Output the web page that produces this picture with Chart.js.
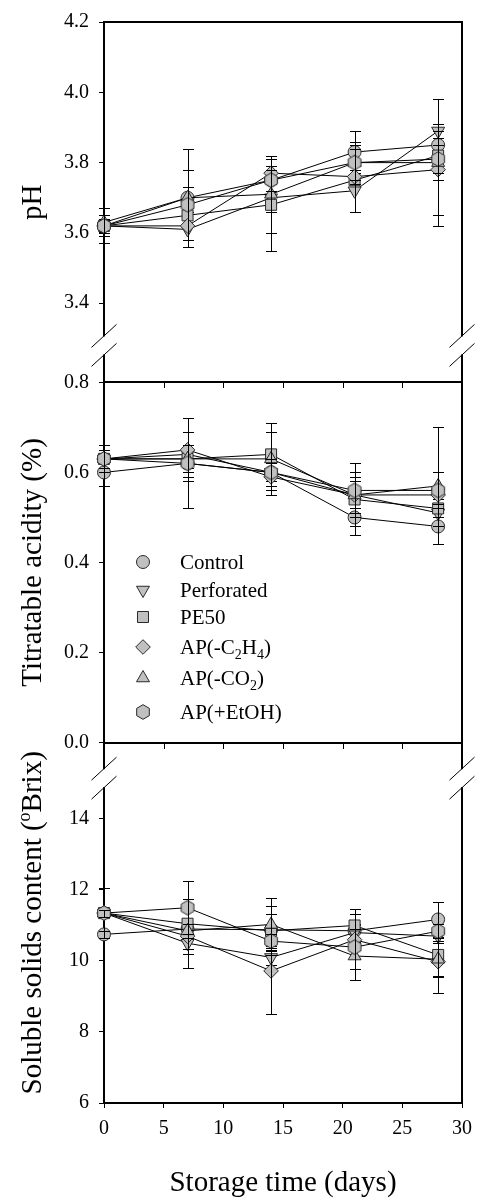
<!DOCTYPE html>
<html>
<head>
<meta charset="utf-8">
<script src="https://cdn.jsdelivr.net/npm/chart.js@4.4.0/dist/chart.umd.min.js"></script>
<style>
  html, body { margin: 0; padding: 0; background: #fff; }
</style>
</head>
<body>
<canvas id="calidad" width="481" height="1200"></canvas>
<script>
// storage days and packaging treatments
const days = [0, 7, 14, 21, 28];
const treatments = ['Control', 'Perforated', 'PE50', 'AP(-C_2H_4)', 'AP(-CO_2)', 'AP(+EtOH)'];

const dayTicks = [0, 5, 10, 15, 20, 25, 30];
const phTicks = [3.4, 3.6, 3.8, 4.0, 4.2];
const acidTicks = [0.0, 0.2, 0.4, 0.6, 0.8];
const solidTicks = [6, 8, 10, 12, 14];

// pH, one row per treatment
const phMean = [
  [3.62, 3.70, 3.75, 3.83, 3.85],
  [3.62, 3.61, 3.70, 3.72, 3.89],
  [3.62, 3.65, 3.68, 3.75, 3.82],
  [3.62, 3.62, 3.77, 3.76, 3.78],
  [3.63, 3.70, 3.71, 3.80, 3.80],
  [3.62, 3.68, 3.75, 3.80, 3.81]
];
const phSd = [
  [0.03, 0.14, 0.04, 0.06, 0.02],
  [0.02, 0.05, 0.04, 0.06, 0.02],
  [0.02, 0.03, 0.13, 0.09, 0.07],
  [0.05, 0.06, 0.05, 0.10, 0.13],
  [0.02, 0.03, 0.11, 0.05, 0.18],
  [0.03, 0.10, 0.03, 0.06, 0.04]
];

// titratable acidity (%)
const acidMean = [
  [0.60, 0.62, 0.60, 0.50, 0.48],
  [0.63, 0.64, 0.60, 0.55, 0.51],
  [0.63, 0.63, 0.64, 0.54, 0.52],
  [0.63, 0.65, 0.59, 0.55, 0.55],
  [0.63, 0.63, 0.63, 0.55, 0.57],
  [0.63, 0.62, 0.60, 0.56, 0.56]
];
const acidSd = [
  [0.03, 0.04, 0.04, 0.04, 0.04],
  [0.02, 0.05, 0.02, 0.03, 0.03],
  [0.02, 0.02, 0.07, 0.06, 0.02],
  [0.02, 0.07, 0.04, 0.04, 0.02],
  [0.02, 0.03, 0.06, 0.05, 0.13],
  [0.03, 0.10, 0.03, 0.06, 0.04]
];

// soluble solids content (oBrix)
const solidMean = [
  [10.75, 10.90, 10.88, 10.85, 11.17],
  [11.35, 10.50, 10.10, 10.80, 10.70],
  [11.35, 11.05, 10.85, 11.00, 10.17],
  [11.35, 10.70, 9.72, 10.60, 9.98],
  [11.35, 10.85, 11.03, 10.14, 10.05],
  [11.35, 11.50, 10.56, 10.39, 10.84]
];
const solidSd = [
  [0.10, 0.15, 0.45, 0.20, 0.50],
  [0.10, 0.30, 0.20, 0.20, 0.20],
  [0.70, 0.70, 0.69, 0.47, 0.60],
  [0.10, 0.90, 1.20, 0.30, 0.88],
  [0.10, 0.20, 0.74, 0.37, 0.50],
  [0.10, 0.75, 0.20, 0.93, 0.20]
];

const FONT = 'Liberation Serif, "Times New Roman", serif';
const FILL = '#c0c0c0';
const EDGE = '#2a2a2a';

function hexagon(r) {
  const c = document.createElement('canvas');
  const s = Math.ceil(r * 2 + 3);
  c.width = s; c.height = s;
  const g = c.getContext('2d');
  g.beginPath();
  for (let k = 0; k < 6; k++) {
    const a = Math.PI / 3 * k;
    g.lineTo(s / 2 + r * Math.sin(a), s / 2 - r * Math.cos(a));
  }
  g.closePath();
  g.fillStyle = FILL; g.fill();
  g.strokeStyle = EDGE; g.lineWidth = 1; g.stroke();
  return c;
}

const markers = [
  { style: 'circle', radius: 6.5, rotation: 0 },
  { style: 'triangle', radius: 7.5, rotation: 180 },
  { style: 'rect', radius: 7.8, rotation: 0 },
  { style: 'rectRot', radius: 7.3, rotation: 0 },
  { style: 'triangle', radius: 7.5, rotation: 0 },
  { style: hexagon(7.3), radius: 7.3, rotation: 0 }
];

const panels = [
  { id: 'yPh', mean: phMean, sd: phSd, min: 3.175, max: 4.2, ticks: phTicks, digits: 1, weight: 3,
    title: [['pH', 0]], breakAt: 3.28 },
  { id: 'yAcid', mean: acidMean, sd: acidSd, min: 0, max: 0.8, ticks: acidTicks, digits: 1, weight: 2,
    title: [['Titratable acidity (%)', 0]] },
  { id: 'ySolid', mean: solidMean, sd: solidSd, min: 6, max: 16.15, ticks: solidTicks, digits: 0, weight: 1,
    title: [['Soluble solids content (', 0], ['o', 1], ['Brix)', 0]], breakAt: 15.15 }
];

const datasets = [];
panels.forEach(p => {
  treatments.forEach((name, t) => {
    const m = markers[t];
    datasets.push({
      label: name,
      xAxisID: 'x',
      yAxisID: p.id,
      data: days.map((d, i) => ({ x: d, y: p.mean[t][i] })),
      sd: p.sd[t],
      order: treatments.length - t,
      showLine: true,
      tension: 0,
      borderColor: '#000',
      borderWidth: 1,
      pointStyle: m.style,
      pointRadius: m.radius,
      pointHoverRadius: m.radius,
      pointRotation: m.rotation,
      pointBackgroundColor: FILL,
      pointBorderColor: EDGE,
      pointBorderWidth: 1,
      clip: false
    });
  });
});

const scales = {
  x: {
    type: 'linear', position: 'bottom', min: 0, max: 30,
    afterBuildTicks: s => { s.ticks = dayTicks.map(v => ({ value: v })); },
    afterFit: s => { s.height = 97; },
    grid: { drawOnChartArea: false, drawTicks: true, tickLength: 5, color: '#000', lineWidth: 1 },
    border: { display: true, color: '#000', width: 2 },
    ticks: { color: '#000', font: { family: FONT, size: 20 }, padding: 9, maxRotation: 0, autoSkip: false }
  }
};
panels.forEach(p => {
  scales[p.id] = {
    type: 'linear', position: 'left', stack: 'panels', stackWeight: 1, weight: p.weight,
    min: p.min, max: p.max,
    afterBuildTicks: s => { s.ticks = p.ticks.map(v => ({ value: v })); },
    afterFit: s => { s.width = 104; },
    grid: { drawOnChartArea: false, drawTicks: true, tickLength: 5, color: '#000', lineWidth: 1 },
    border: { display: true, color: '#000', width: 2 },
    ticks: { color: '#000', font: { family: FONT, size: 20 }, padding: 10, autoSkip: false,
             callback: v => Number(v).toFixed(p.digits) }
  };
});

// write a label where "_n" marks a subscript digit
function richText(ctx, text, x, y, size) {
  const parts = text.split(/_(\d)/);
  parts.forEach((part, k) => {
    if (!part) return;
    const sub = k % 2 === 1;
    ctx.font = (sub ? Math.round(size * 0.66) : size) + 'px ' + FONT;
    ctx.fillText(part, x, sub ? y + 5 : y);
    x += ctx.measureText(part).width;
  });
}

const legendRows = [562, 590, 617, 647, 678, 712];

const decorations = {
  id: 'decorations',
  afterDatasetDraw(chart, args) {
    const ds = chart.data.datasets[args.index];
    const ys = chart.scales[ds.yAxisID];
    const ctx = chart.ctx;
    ctx.save();
    ctx.strokeStyle = '#000';
    ctx.lineWidth = 1;
    ctx.beginPath();
    args.meta.data.forEach((pt, i) => {
      const px = Math.round(pt.x) + 0.5;
      const v = ds.data[i].y;
      const hi = Math.round(ys.getPixelForValue(v + ds.sd[i])) + 0.5;
      const lo = Math.round(ys.getPixelForValue(v - ds.sd[i])) + 0.5;
      ctx.moveTo(px, hi); ctx.lineTo(px, lo);
      ctx.moveTo(px - 5.5, hi); ctx.lineTo(px + 5.5, hi);
      ctx.moveTo(px - 5.5, lo); ctx.lineTo(px + 5.5, lo);
    });
    ctx.stroke();
    ctx.restore();
  },
  afterDraw(chart) {
    const ctx = chart.ctx;
    const { left, right, top, bottom } = chart.chartArea;
    const xs = chart.scales.x;
    ctx.save();
    ctx.strokeStyle = '#000';

    // outer frame: top and right
    ctx.lineWidth = 2;
    ctx.beginPath();
    ctx.moveTo(left - 1, top); ctx.lineTo(right, top);
    ctx.moveTo(right, top - 1); ctx.lineTo(right, bottom + 1);
    ctx.stroke();

    // panel separators with downward ticks
    ['yPh', 'yAcid'].forEach(id => {
      const yb = Math.round(chart.scales[id].bottom);
      ctx.lineWidth = 2;
      ctx.beginPath();
      ctx.moveTo(left - 1, yb); ctx.lineTo(right + 1, yb);
      ctx.stroke();
      ctx.lineWidth = 1;
      ctx.beginPath();
      dayTicks.forEach(d => {
        const px = Math.round(xs.getPixelForValue(d)) + 0.5;
        ctx.moveTo(px, yb); ctx.lineTo(px, yb + 6);
      });
      ctx.stroke();
    });

    // axis breaks
    panels.filter(p => p.breakAt !== undefined).forEach(p => {
      const yb = chart.scales[p.id].getPixelForValue(p.breakAt);
      [left, right].forEach(ax => {
        ctx.fillStyle = '#fff';
        ctx.fillRect(ax - 2, yb - 9, 4, 18);
        ctx.lineWidth = 1;
        ctx.beginPath();
        [-9.5, 9.5].forEach(off => {
          ctx.moveTo(ax - 12.5, yb + off + 11.5);
          ctx.lineTo(ax + 12.5, yb + off - 11.5);
        });
        ctx.stroke();
      });
    });

    // legend
    const draw = Chart.helpers && Chart.helpers.drawPoint;
    ctx.fillStyle = '#000';
    ctx.textAlign = 'left';
    ctx.textBaseline = 'alphabetic';
    treatments.forEach((name, t) => {
      const ry = legendRows[t];
      const m = markers[t];
      ctx.save();
      ctx.fillStyle = FILL; ctx.strokeStyle = EDGE; ctx.lineWidth = 1;
      draw(ctx, { pointStyle: m.style, rotation: m.rotation, radius: m.radius, borderWidth: 1 }, left + 39, ry);
      ctx.restore();
      ctx.fillStyle = '#000';
      richText(ctx, name, left + 76, ry + 7, 21);
    });

    // axis titles
    ctx.fillStyle = '#000';
    panels.forEach(p => {
      const sc = chart.scales[p.id];
      const cy = (sc.top + sc.bottom) / 2;
      let w = 0;
      p.title.forEach(([s, sup]) => {
        ctx.font = (sup ? 18 : 29) + 'px ' + FONT;
        w += ctx.measureText(s).width;
      });
      ctx.save();
      ctx.translate(41, cy);
      ctx.rotate(-Math.PI / 2);
      let x = -w / 2;
      p.title.forEach(([s, sup]) => {
        ctx.font = (sup ? 18 : 29) + 'px ' + FONT;
        ctx.fillText(s, x, sup ? -11 : 0);
        x += ctx.measureText(s).width;
      });
      ctx.restore();
    });
    ctx.font = '29px ' + FONT;
    ctx.textAlign = 'center';
    ctx.fillText('Storage time (days)', (left + right) / 2, 1191);
    ctx.restore();
  }
};

new Chart(document.getElementById('calidad'), {
  type: 'scatter',
  data: { datasets },
  options: {
    responsive: false,
    animation: false,
    events: [],
    devicePixelRatio: 1,
    layout: { autoPadding: false, padding: { left: 0, right: 15, top: 15, bottom: 0 } },
    scales,
    plugins: { legend: { display: false }, tooltip: { enabled: false } }
  },
  plugins: [decorations]
});
</script>
</body>
</html>
